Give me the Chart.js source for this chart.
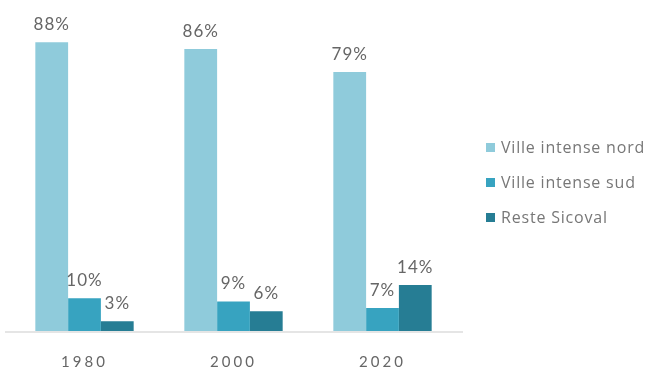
<!DOCTYPE html>
<html>
<head>
<meta charset="utf-8">
<script src="https://cdn.jsdelivr.net/npm/chart.js@4"></script>
<style>
  html, body { margin: 0; padding: 0; background: #fff; }
  #wrap { position: relative; width: 654px; height: 377px; }
  #legend { position: absolute; left: 486px; top: 136px; font-family: "Open Sans", sans-serif; font-size: 16px; color: #777; letter-spacing: 0.8px; }
  #legend div { height: 35px; line-height: 22px; display: flex; align-items: flex-start; white-space: nowrap; }
  #legend span.box { display: inline-block; width: 9px; height: 9px; margin: 7px 6px 0 0; }
</style>
</head>
<body>
<div id="wrap">
  <canvas id="chart" width="654" height="377"></canvas>
  <div id="legend"></div>
</div>
<script>
const years = ["1980", "2000", "2020"];
const seriesNames = ["Ville intense nord", "Ville intense sud", "Reste Sicoval"];
const villeNord = [88, 86, 79];
const villeSud = [10, 9, 7];
const resteSicoval = [3, 6, 14];
const colors = ["#8fcbdb", "#37a3c0", "#267d94"];

const legend = document.getElementById("legend");
seriesNames.forEach((name, i) => {
  const row = document.createElement("div");
  row.innerHTML = '<span class="box" style="background:' + colors[i] + '"></span>' + name;
  legend.appendChild(row);
});

// draws the % values above each bar, plus the baseline
const valueLabels = {
  id: "valueLabels",
  beforeDraw(chart) {
    chart.ctx.letterSpacing = "3px";
  },
  afterDatasetsDraw(chart) {
    const ctx = chart.ctx;
    const y0 = chart.scales.y.getPixelForValue(0);
    ctx.save();
    ctx.strokeStyle = "#dcdcdc";
    ctx.lineWidth = 1.5;
    ctx.beginPath();
    ctx.moveTo(5, y0 + 1);
    ctx.lineTo(463, y0 + 1);
    ctx.stroke();
    ctx.letterSpacing = "1px";
    ctx.font = "17px Lato, sans-serif";
    ctx.fillStyle = "#666";
    ctx.textAlign = "center";
    ctx.textBaseline = "alphabetic";
    chart.data.datasets.forEach((ds, i) => {
      chart.getDatasetMeta(i).data.forEach((bar, j) => {
        ctx.fillText(ds.data[j] + "%", bar.x, bar.y - 12);
      });
    });
    ctx.restore();
  },
};

new Chart(document.getElementById("chart"), {
  type: "bar",
  data: {
    labels: years,
    datasets: [
      { label: seriesNames[0], data: villeNord, backgroundColor: colors[0] },
      { label: seriesNames[1], data: villeSud, backgroundColor: colors[1] },
      { label: seriesNames[2], data: resteSicoval, backgroundColor: colors[2] },
    ],
  },
  options: {
    responsive: false,
    animation: false,
    layout: { padding: { left: 10, right: 197, top: 3, bottom: 6 } },
    datasets: { bar: { categoryPercentage: 0.66, barPercentage: 1 } },
    plugins: { legend: { display: false }, tooltip: { enabled: false } },
    scales: {
      x: {
        grid: { display: false, drawTicks: false },
        border: { display: false },
        ticks: { color: "#666", padding: 22, font: { family: "Lato", size: 15 } },
        afterFit(scale) {
          scale.height = 40;
        },
      },
      y: { display: false, min: 0, max: 100 },
    },
  },
  plugins: [valueLabels],
});
</script>
</body>
</html>
